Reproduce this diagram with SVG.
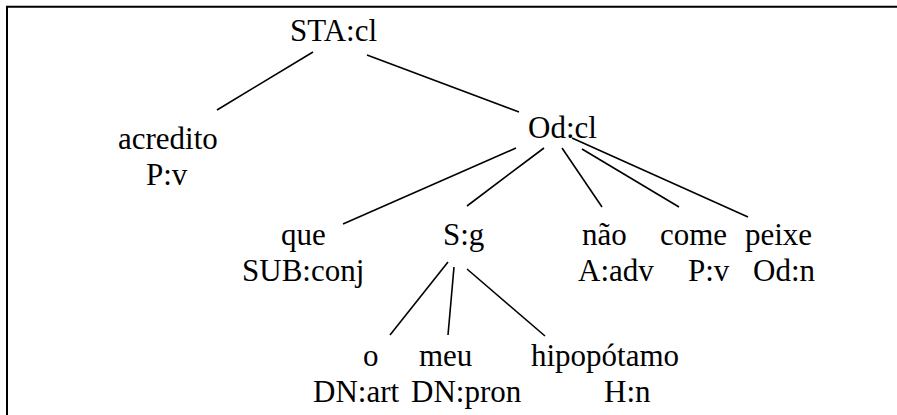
<svg xmlns="http://www.w3.org/2000/svg" width="897" height="415" viewBox="0 0 897 415">
<style>
.t{font-family:'Liberation Serif','Times New Roman',Times,serif;font-size:31px;fill:#000}
.e{stroke:#000;stroke-width:1.6;fill:none}
.b{stroke:#000;stroke-width:2;fill:none}
</style>
<rect width="897" height="415" fill="#fff"/>
<path class="b" d="M7,415 V6.7 H897"/>
<g id="connectors">
<line class="e" x1="313" y1="52" x2="217" y2="110"/>
<line class="e" x1="367" y1="55" x2="519" y2="112"/>
<line class="e" x1="516" y1="148" x2="343" y2="224"/>
<line class="e" x1="544" y1="148" x2="467" y2="206"/>
<line class="e" x1="562" y1="148" x2="602" y2="207"/>
<line class="e" x1="582" y1="149" x2="679" y2="207"/>
<line class="e" x1="572" y1="138" x2="748" y2="217"/>
<line class="e" x1="448" y1="262" x2="390" y2="335"/>
<line class="e" x1="454" y1="267" x2="448" y2="335"/>
<line class="e" x1="467" y1="269" x2="545" y2="336"/>
</g>
<g class="t">
<g id="n-sta"><text x="290" y="41">STA:cl</text></g>
<g id="n-acredito"><text x="118" y="149">acredito</text><text x="146" y="185">P:v</text></g>
<g id="n-odcl"><text x="528" y="138">Od:cl</text></g>
<g id="n-que"><text x="281" y="245">que</text><text x="242" y="281">SUB:conj</text></g>
<g id="n-sg"><text x="443" y="245">S:g</text></g>
<g id="n-nao"><text x="582" y="245">não</text><text x="578" y="281">A:adv</text></g>
<g id="n-come"><text x="660" y="245">come</text><text x="688" y="281">P:v</text></g>
<g id="n-peixe"><text x="745" y="245">peixe</text><text x="753" y="281">Od:n</text></g>
<g id="n-o"><text x="363" y="366">o</text><text x="313" y="402">DN:art</text></g>
<g id="n-meu"><text x="419" y="366">meu</text><text x="411" y="402">DN:pron</text></g>
<g id="n-hipo"><text x="531" y="366">hipopótamo</text><text x="604" y="402">H:n</text></g>
</g>
</svg>
